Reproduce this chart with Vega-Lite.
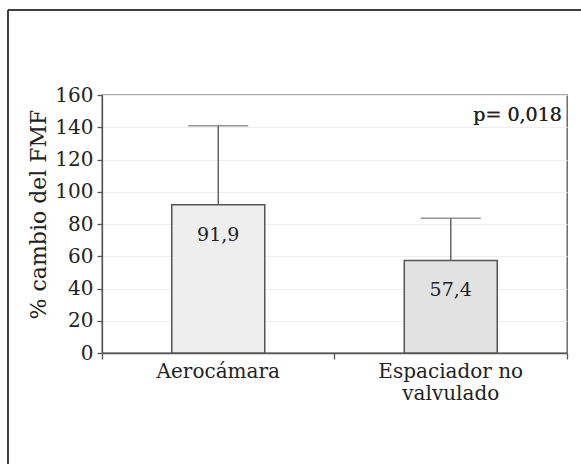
{
  "$schema": "https://vega.github.io/schema/vega-lite/v6.json",
  "width": 465,
  "height": 258,
  "autosize": {"type": "none"},
  "padding": {"left": 102, "top": 95, "right": 14, "bottom": 111},
  "background": "white",
  "config": {
    "font": "DejaVu Serif",
    "view": {"stroke": "#555555", "strokeWidth": 1.3},
    "axis": {"labelColor": "#222222", "titleColor": "#222222", "domainColor": "#555555", "tickColor": "#555555", "domainWidth": 1.3, "tickWidth": 1.3},
    "axisY": {"labelOverlap": false, "labelFontSize": 20, "labelPadding": 4, "tickSize": 5, "titleFontSize": 22, "titleFontWeight": "normal", "titlePadding": 4, "titleY": 119, "gridColor": "#eeeeee", "gridWidth": 1}
  },
  "data": {
    "values": [
      {"grupo": "Aerocámara", "cambio": 91.9, "superior": 141, "etiqueta": "91,9"},
      {"grupo": "Espaciador no valvulado", "cambio": 57.4, "superior": 83.5, "etiqueta": "57,4"}
    ]
  },
  "resolve": {"scale": {"x": "independent", "y": "independent"}},
  "layer": [
    {
      "encoding": {
        "x": {
          "field": "grupo", "type": "nominal", "sort": null,
          "scale": {"paddingInner": 0, "paddingOuter": 0},
          "axis": {
            "title": null, "labelAngle": 0, "labelFontSize": 20, "labelPadding": 2,
            "bandPosition": 1, "tickExtra": true, "tickSize": 6, "grid": false,
            "labelLineHeight": 22,
            "labelExpr": "datum.label == 'Espaciador no valvulado' ? ['Espaciador no', 'valvulado'] : datum.label"
          }
        }
      },
      "layer": [
        {
          "mark": {"type": "bar", "width": 93, "stroke": "#555555", "strokeWidth": 1.5},
          "encoding": {
            "y": {
              "field": "cambio", "type": "quantitative",
              "scale": {"domain": [0, 160], "nice": false},
              "axis": {"title": "% cambio del FMF", "values": [0, 20, 40, 60, 80, 100, 120, 140, 160], "tickCount": 20, "labelOverlap": false, "grid": true}
            },
            "fill": {"field": "grupo", "type": "nominal", "scale": {"range": ["#eeeeee", "#e2e2e2"]}, "legend": null}
          }
        },
        {
          "mark": {"type": "rule", "color": "#666666", "strokeWidth": 1.5},
          "encoding": {
            "y": {"field": "cambio", "type": "quantitative", "axis": {"title": "% cambio del FMF", "values": [0, 20, 40, 60, 80, 100, 120, 140, 160], "tickCount": 20, "labelOverlap": false, "grid": true}},
            "y2": {"field": "superior"}
          }
        },
        {
          "mark": {"type": "tick", "color": "#666666", "thickness": 1.5, "size": 60, "orient": "horizontal"},
          "encoding": {
            "y": {"field": "superior", "type": "quantitative", "axis": {"title": "% cambio del FMF", "values": [0, 20, 40, 60, 80, 100, 120, 140, 160], "tickCount": 20, "labelOverlap": false, "grid": true}}
          }
        },
        {
          "mark": {"type": "text", "fontSize": 19, "dy": 30, "color": "#222222", "baseline": "middle"},
          "encoding": {
            "y": {"field": "cambio", "type": "quantitative", "axis": {"title": "% cambio del FMF", "values": [0, 20, 40, 60, 80, 100, 120, 140, 160], "tickCount": 20, "labelOverlap": false, "grid": true}},
            "text": {"field": "etiqueta", "type": "nominal"}
          }
        }
      ]
    },
    {
      "layer": [
        {
          "mark": {"type": "rule", "color": "#333333", "strokeWidth": 1.5, "clip": false},
          "encoding": {
            "x": {"datum": -0.2022, "type": "quantitative", "scale": {"domain": [0, 1], "nice": false, "zero": false}, "axis": null},
            "y": {"datum": 212.7, "type": "quantitative", "scale": {"domain": [0, 160], "nice": false, "zero": false}, "axis": null},
            "y2": {"datum": -70}
          }
        },
        {
          "mark": {"type": "rule", "color": "#333333", "strokeWidth": 1.5, "clip": false},
          "encoding": {
            "x": {"datum": -0.2022, "type": "quantitative", "axis": null},
            "x2": {"datum": 1.1},
            "y": {"datum": 212.7, "type": "quantitative", "axis": null}
          }
        },
        {
          "mark": {"type": "text", "fontSize": 19, "align": "right", "baseline": "middle", "color": "#222222"},
          "encoding": {
            "x": {"datum": 0.989, "type": "quantitative", "axis": null},
            "y": {"datum": 147.6, "type": "quantitative", "axis": null},
            "text": {"value": "p= 0,018"}
          }
        }
      ]
    }
  ]
}
